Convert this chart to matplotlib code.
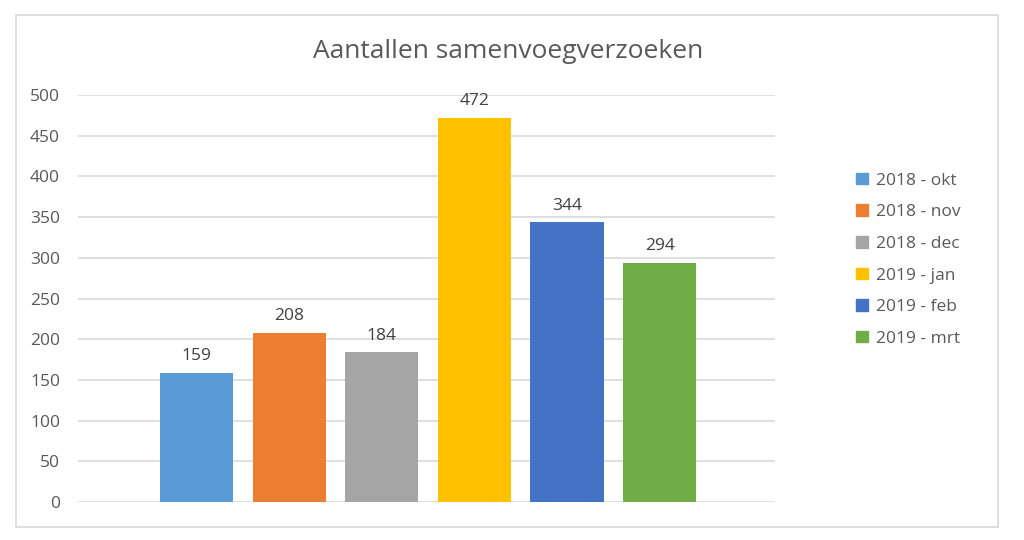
import matplotlib.pyplot as plt
from matplotlib.patches import Rectangle, Patch

# data
months = ['2018 - okt', '2018 - nov', '2018 - dec', '2019 - jan', '2019 - feb', '2019 - mrt']
counts = [159, 208, 184, 472, 344, 294]
colors = ['#5B9BD5', '#ED7D31', '#A5A5A5', '#FFC000', '#4472C4', '#70AD47']

plt.rcParams['font.family'] = ['Open Sans', 'DejaVu Sans']
text_col = '#595959'

fig = plt.figure(figsize=(10.24, 5.4), dpi=100, facecolor='white')
ax = fig.add_axes([0.0762, 0.0704, 0.681, 0.7536])

x = list(range(len(counts)))
bars = ax.bar(x, counts, width=0.79, color=colors, zorder=3)
for xi, v in zip(x, counts):
    ax.annotate(str(v), (xi, v), xytext=(0, 6), textcoords='offset points',
                ha='center', va='bottom', fontsize=12.5, color='#404040')

ax.set_xlim(-1.28, 6.25)
ax.set_ylim(0, 500)
ax.set_yticks(range(0, 501, 50))
ax.set_xticks([])
ax.grid(axis='y', color='#d9d9d9', linewidth=1.2, zorder=0)
for s in ax.spines.values():
    s.set_visible(False)
ax.tick_params(axis='y', length=0, pad=13, labelsize=12.5, labelcolor=text_col)

fig.text(0.496, 0.905, 'Aantallen samenvoegverzoeken', ha='center', va='center',
         fontsize=19, color=text_col)

# legenda
handles = [Patch(color=c, label=m) for c, m in zip(colors, months)]
fig.legend(handles=handles, loc='center left', bbox_to_anchor=(0.821, 0.519),
           frameon=False, fontsize=12.5, labelcolor=text_col, handlelength=0.65,
           handleheight=0.65, handletextpad=0.5, labelspacing=0.9)

# rand om de grafiek
fig.add_artist(Rectangle((16 / 1024, 1 - 527 / 540), 982 / 1024, 512 / 540,
                         transform=fig.transFigure, fill=False,
                         edgecolor='#d9d9d9', linewidth=1.2))

plt.savefig('out.png', dpi=100)
